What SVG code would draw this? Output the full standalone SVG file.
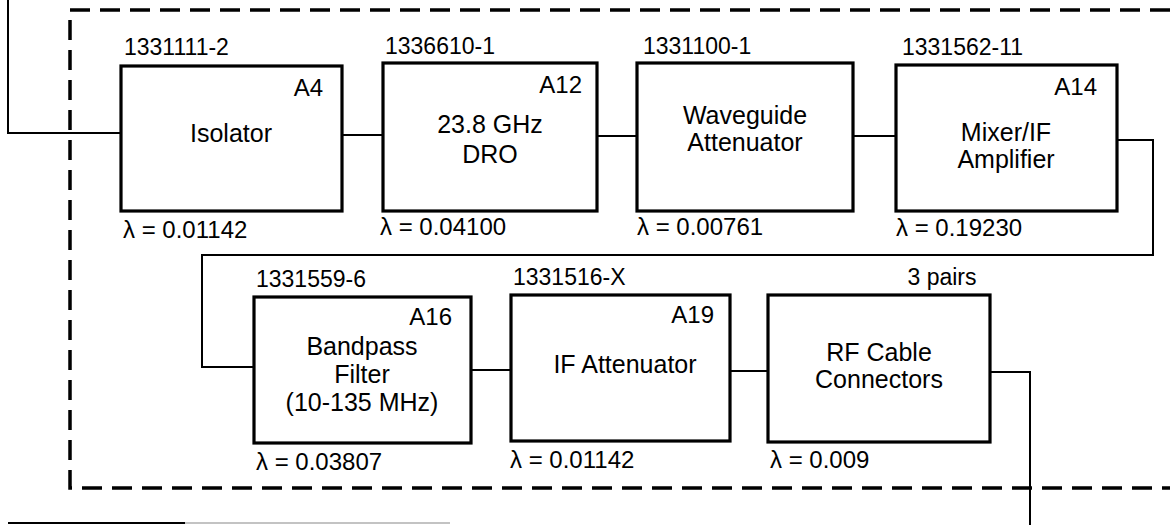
<svg xmlns="http://www.w3.org/2000/svg" width="1170" height="525" viewBox="0 0 1170 525">
<style>
text{font-family:"Liberation Sans",Arial,sans-serif;fill:#000}
.pn{font-size:23px}
.al{font-size:24px;text-anchor:end}
.lam{font-size:24px}
.lb{font-size:25px;text-anchor:middle}
.box{fill:#fff;stroke:#000;stroke-width:3.2}
.wire{fill:none;stroke:#000;stroke-width:2}
.dash{fill:none;stroke:#000;stroke-width:3.5;stroke-dasharray:20 10}
</style>
<rect width="1170" height="525" fill="#fff"/>
<path class="dash" d="M1170,10 H70 V488 H1170"/>
<g id="connectors">
<path class="wire" d="M8,0 V133 H121"/>
<path class="wire" d="M342,135 H383"/>
<path class="wire" d="M597,136 H637"/>
<path class="wire" d="M853,136 H896"/>
<path class="wire" d="M1117,140 H1153 V255 H202 V367 H254"/>
<path class="wire" d="M471,370 H511"/>
<path class="wire" d="M730,371 H768"/>
<path class="wire" d="M990,372 H1030 V525"/>
<path d="M8,523 H185" stroke="#000" stroke-width="2"/>
<path d="M185,523 H450" stroke="#888" stroke-width="1.2"/>
</g>
<g id="isolator">
<rect class="box" x="121" y="66" width="221" height="145"/>
<text class="pn" x="124" y="55">1331111-2</text>
<text class="al" x="323" y="96">A4</text>
<text class="lb" x="231" y="142">Isolator</text>
<text class="lam" x="123" y="238">λ = 0.01142</text>
</g>
<g id="dro">
<rect class="box" x="383" y="63" width="214" height="148"/>
<text class="pn" x="385" y="54">1336610-1</text>
<text class="al" x="582" y="93">A12</text>
<text class="lb" x="490" y="133">23.8 GHz</text>
<text class="lb" x="490" y="163">DRO</text>
<text class="lam" x="380" y="235">λ = 0.04100</text>
</g>
<g id="waveguide">
<rect class="box" x="637" y="63" width="216" height="148"/>
<text class="pn" x="643" y="54">1331100-1</text>
<text class="lb" x="745" y="124">Waveguide</text>
<text class="lb" x="745" y="151">Attenuator</text>
<text class="lam" x="637" y="235">λ = 0.00761</text>
</g>
<g id="mixer">
<rect class="box" x="896" y="65" width="221" height="146"/>
<text class="pn" x="902" y="55">1331562-11</text>
<text class="al" x="1097" y="95">A14</text>
<text class="lb" x="1006" y="141">Mixer/IF</text>
<text class="lb" x="1006" y="168">Amplifier</text>
<text class="lam" x="896" y="236">λ = 0.19230</text>
</g>
<g id="bandpass">
<rect class="box" x="254" y="297" width="217" height="146"/>
<text class="pn" x="256" y="287">1331559-6</text>
<text class="al" x="452" y="325">A16</text>
<text class="lb" x="362" y="355">Bandpass</text>
<text class="lb" x="362" y="383">Filter</text>
<text class="lb" x="362" y="411">(10-135 MHz)</text>
<text class="lam" x="256" y="470">λ = 0.03807</text>
</g>
<g id="ifatt">
<rect class="box" x="511" y="295" width="219" height="146"/>
<text class="pn" x="513" y="285">1331516-X</text>
<text class="al" x="714" y="323">A19</text>
<text class="lb" x="625" y="373">IF Attenuator</text>
<text class="lam" x="510" y="468">λ = 0.01142</text>
</g>
<g id="rfcable">
<rect class="box" x="768" y="295" width="222" height="147"/>
<text class="pn" x="942" y="285" text-anchor="middle">3 pairs</text>
<text class="lb" x="879" y="361">RF Cable</text>
<text class="lb" x="879" y="388">Connectors</text>
<text class="lam" x="770" y="468">λ = 0.009</text>
</g>
</svg>
